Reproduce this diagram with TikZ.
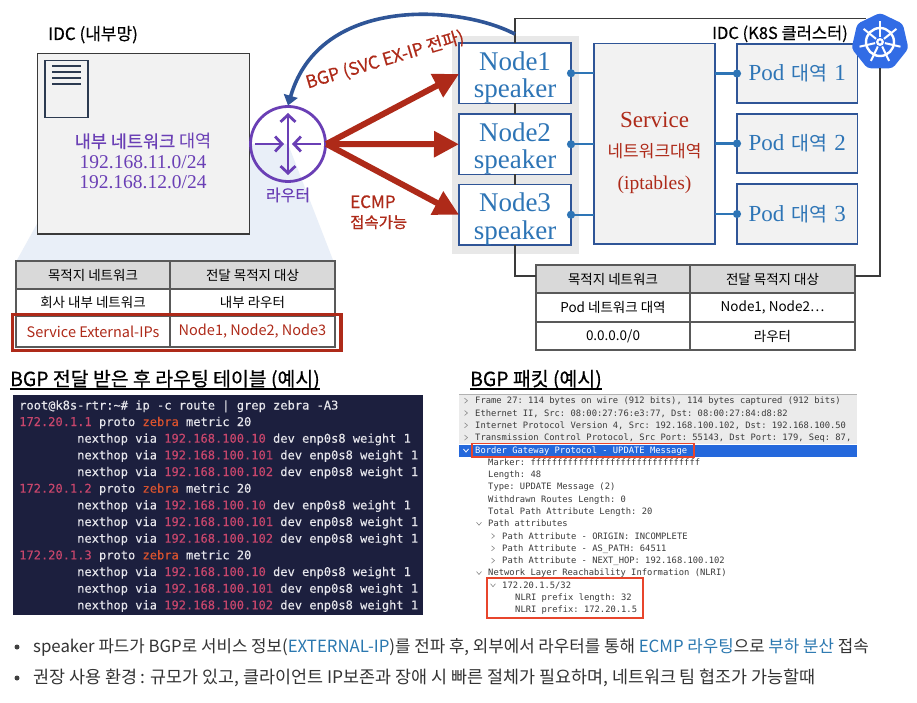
\documentclass[tikz,border=0pt]{standalone}
\usepackage{fontspec}
\setmainfont{Noto Sans CJK KR}
\newfontfamily\cjkm[FakeBold=0.45]{Noto Sans CJK KR}
\newfontfamily\sflat{Liberation Serif}
\newfontfamily\tmono{DejaVu Sans Mono}
\newfontfamily\tmonob[FakeBold=0.2]{DejaVu Sans Mono}
\usetikzlibrary{arrows.meta,shapes.geometric,calc}
\definecolor{nodeblue}{HTML}{2E75B6}
\definecolor{edgeblue}{HTML}{2F5597}
\definecolor{bgpblue}{HTML}{2F5597}
\definecolor{redd}{HTML}{AE2A19}
\definecolor{purp}{HTML}{6A3FB5}
\definecolor{boxgray}{HTML}{F2F2F2}
\definecolor{termbg}{HTML}{1C1F3E}
\definecolor{termfg}{HTML}{E6E6EC}
\definecolor{termip}{HTML}{C8466C}
\definecolor{termzb}{HTML}{D8522E}
\definecolor{wire}{HTML}{3A3A3A}
\definecolor{cellline}{HTML}{595959}
\definecolor{cone}{HTML}{E9EFF8}
\definecolor{k8sblue}{HTML}{326CE5}
\definecolor{hl}{HTML}{E8452C}
\definecolor{pkt}{HTML}{3A3A3A}
\definecolor{linkb}{HTML}{2B78B0}
\definecolor{docc}{HTML}{2C3A50}
\definecolor{selrow}{HTML}{2468DC}
\newcommand{\fs}[1]{\fontsize{#1}{#1}\selectfont}
\newcommand{\bx}[7]{\node[#6,minimum width={(#4-#2)*1pt},minimum height={(#5-#3)*1pt}] (#1) at ({(#2+#4)/2},{(#3+#5)/2}) {#7};}
\tikzset{
 x=1pt,y=-1pt,
 plainbox/.style={draw=wire,line width=1.4pt,fill=boxgray,inner sep=0pt,outer sep=0pt},
 nodebox/.style={draw=edgeblue,line width=1.3pt,fill=white,inner sep=0pt,outer sep=0pt,align=center,text=nodeblue,font=\sflat\fontsize{27}{27.5}\selectfont},
 svcbox/.style={draw=edgeblue,line width=1.3pt,fill=boxgray,inner sep=0pt,outer sep=0pt,align=center,text=redd},
 podbox/.style={draw=edgeblue,line width=1.3pt,fill=boxgray,inner sep=0pt,outer sep=0pt,text=nodeblue},
 cellh/.style={draw=cellline,line width=1.2pt,fill=black!15,inner sep=0pt,outer sep=0pt,font=\fs{13.5}},
 cellw/.style={draw=cellline,line width=1.2pt,fill=white,inner sep=0pt,outer sep=0pt,font=\fs{13.5}},
 cellr/.style={cellw,text=redd,font=\fs{14.5}},
 hlbox/.style={draw=redd,line width=3.2pt,inner sep=0pt,fill=none},
 hlpkt/.style={draw=hl,line width=1.8pt,inner sep=0pt,fill=none},
 frameline/.style={draw=wire,line width=1.3pt},
 blueconn/.style={draw=nodeblue,line width=2.4pt,shorten <=-4pt,{Circle[length=8pt,width=8pt]}-},
 redarrow/.style={draw=redd,line width=6pt,-{Triangle[length=25pt,width=25pt]}},
 bgparrow/.style={draw=bgpblue,line width=3.6pt,-{Triangle[length=10pt,width=14pt]}},
 routerarrow/.style={draw=purp,line width=2.8pt},
 termtxt/.style={anchor=base west,inner sep=0pt,text=termfg,font=\tmonob\fs{12.05}\frenchspacing},
 pkttxt/.style={anchor=base west,inner sep=0pt,text=pkt,font=\tmono\fs{8.8}\frenchspacing},
 chev/.style={draw=black!45,line width=.6pt},
 heading/.style={anchor=base west,inner sep=0pt,font=\cjkm\fs{19.4}},
 labeltxt/.style={inner sep=0pt},
 bullettxt/.style={anchor=base west,inner sep=0pt,text=black!80},
 dotb/.style={circle,fill=black!75,inner sep=0pt,minimum size=5pt},
}
\begin{document}
\begin{tikzpicture}
\useasboundingbox[fill=white] (0,0) rectangle (917,703);
% cone behind the IDC box
\fill[cone] (38,222) -- (17,260) -- (333,260) -- (288,144) -- (249,144) -- cycle;
% cluster background
\fill[black!9] (452,36) rectangle (579,254);
% left IDC
\node[labeltxt,anchor=base west,font=\cjkm\fs{17}] (idcl) at (48,40) {IDC (내부망)};
\bx{idc}{37.5}{53.5}{249.5}{234}{plainbox}{}
\bx{doc}{45}{60.5}{88}{117.5}{draw=docc,line width=1.6pt,fill=boxgray,inner sep=0pt}{}
\foreach \yy in {66,72,78,84}{\draw[docc,line width=1.6pt] (52,\yy) -- (81,\yy);}
\node[labeltxt,align=center,text=purp] (idct) at (143,161) {{\fs{17.5}\cjkm 내부 네트워크 }{\fs{17.5}대역}\\[5pt]{\sflat\fs{19.5}192.168.11.0/24}\\[6pt]{\sflat\fs{19.5}192.168.12.0/24}};
% router
\node[circle,draw=purp,line width=2.8pt,minimum size=75pt,inner sep=0pt,outer sep=1pt] (router) at (288,144) {};
\draw[routerarrow,{Straight Barb[length=7pt,width=15pt]}-{Straight Barb[length=7pt,width=15pt]}] ($(router.center)+(0,-31)$) -- ($(router.center)+(0,31)$);
\draw[routerarrow,-{Straight Barb[length=7pt,width=15pt]}] ($(router.center)+(-33,0)$) -- ($(router.center)+(-4,0)$);
\draw[routerarrow,-{Straight Barb[length=7pt,width=15pt]}] ($(router.center)+(33,0)$) -- ($(router.center)+(4,0)$);
\node[labeltxt,text=purp,font=\cjkm\fs{16}] (rlabel) at (288,195) {라우터};
% left table
\bx{lh1}{16}{261}{170}{289}{cellh}{목적지 네트워크}
\bx{lh2}{170}{261}{335}{289}{cellh}{전달 목적지 대상}
\bx{l11}{16}{289}{170}{316}{cellw}{회사 내부 네트워크}
\bx{l12}{170}{289}{335}{316}{cellw}{내부 라우터}
\bx{l21}{16}{316}{170}{347}{cellr}{Service External-IPs}
\bx{l22}{170}{316}{335}{347}{cellr}{Node1, Node2, Node3}
\bx{lhl}{12.5}{314.5}{341}{350.5}{hlbox}{}
% cluster nodes
\bx{n1}{459}{43.5}{571}{103}{nodebox}{\rule{0pt}{27pt}Node1\\speaker}
\bx{n2}{459}{114.5}{571}{174}{nodebox}{\rule{0pt}{27pt}Node2\\speaker}
\bx{n3}{459}{185}{571}{244.5}{nodebox}{\rule{0pt}{27pt}Node3\\speaker}
\bx{svc}{594}{43.5}{715}{244}{svcbox}{\rule{0pt}{34pt}{\sflat\fs{23}Service}\\[15pt]{\fs{17}네트워크대역}\\[16pt]{\sflat\fs{19.5}(iptables)}}
\bx{p1}{737}{44}{857.5}{103}{podbox}{{\sflat\fs{23}Pod}\hspace{7pt}{\fs{19.5}대역}\hspace{7pt}{\sflat\fs{23}1}}
\bx{p2}{737}{114}{857.5}{173}{podbox}{{\sflat\fs{23}Pod}\hspace{7pt}{\fs{19.5}대역}\hspace{7pt}{\sflat\fs{23}2}}
\bx{p3}{737}{184}{857.5}{244}{podbox}{{\sflat\fs{23}Pod}\hspace{7pt}{\fs{19.5}대역}\hspace{7pt}{\sflat\fs{23}3}}
\node[labeltxt,anchor=base east,font=\cjkm\fs{16.5}] (idcr) at (848,39) {IDC (K8S 클러스터)};
% connectors node to service, service to pod
\draw[blueconn] (n1.east) -- (svc.west |- n1.east);
\draw[blueconn] (n2.east) -- (svc.west |- n2.east);
\draw[blueconn] (n3.east) -- (svc.west |- n3.east);
\draw[blueconn] (p1.west) -- (svc.east |- p1.west);
\draw[blueconn] (p2.west) -- (svc.east |- p2.west);
\draw[blueconn] (p3.west) -- (svc.east |- p3.west);
% k8s logo
\node[regular polygon,regular polygon sides=7,fill=k8sblue,draw=k8sblue,line width=3pt,rounded corners=3pt,minimum size=55pt,inner sep=0pt] (k8s) at (880,42) {};
\coordinate (kc) at ($(k8s.center)+(0,0)$);
\draw[white,line width=2.4pt] (kc) circle[radius=14pt];
\foreach \a in {90,141.4,192.9,244.3,295.7,347.1,38.6}{
 \draw[white,line width=2pt] ($(kc)+(\a:5pt)$) -- ($(kc)+(\a:21pt)$);
}
\fill[white] (kc) circle[radius=4pt];
\fill[k8sblue] (kc) circle[radius=1.6pt];
% right table
\bx{rh1}{536}{265}{690}{293}{cellh}{목적지 네트워크}
\bx{rh2}{690}{265}{855}{293}{cellh}{전달 목적지 대상}
\bx{r11}{536}{293}{690}{322}{cellw}{Pod 네트워크 대역}
\bx{r12}{690}{293}{855}{322}{cellw}{Node1, Node2…}
\bx{r21}{536}{322}{690}{350}{cellw}{0.0.0.0/0}
\bx{r22}{690}{322}{855}{350}{cellw}{라우터}
% cluster frame
\coordinate (ftop) at (866,18.5);
\draw[frameline] (n1.north) |- (ftop);
\draw[frameline] (n1.south) -- (n2.north);
\draw[frameline] (n2.south) -- (n3.north);
\draw[frameline] (n3.south) |- ([yshift=3pt]rh1.west);
\draw[frameline] (k8s.south) |- ([yshift=3pt]rh2.east);
% arrows
\draw[redarrow] (router.east) -- (n1.west |- 0,74);
\draw[redarrow] (router.east) -- (n2.west);
\draw[redarrow] (router.east) -- (n3.west);
\draw[bgparrow] ([yshift=9pt]n1.north) .. controls (460,5) and (320,-5) .. (router.north);
\node[labeltxt,rotate=16.5,text=redd,font=\cjkm\fs{17.5}] (bgplab) at (385,60) {BGP (SVC EX-IP 전파)};
\node[labeltxt,anchor=base west,text=redd,font=\cjkm\fs{17}] (ecmp) at (350,208) {ECMP};
\node[labeltxt,anchor=base west,text=redd,font=\cjkm\fs{15.5}] (ecmp2) at (350,228) {접속가능};
% headings
\node[heading] (h1) at (10,386) {BGP 전달 받은 후 라우팅 테이블 (예시)};
\draw[line width=1.2pt] (h1.base west |- 0,389) -- (h1.base east |- 0,389);
\node[heading] (h2) at (470,386) {BGP 패킷 (예시)};
\draw[line width=1.2pt] (h2.base west |- 0,389) -- (h2.base east |- 0,389);
% terminal
\bx{term}{13}{395}{423}{615}{fill=termbg,inner sep=0pt}{}
\node[termtxt] (t0) at (19,409.5) {root@k8s-rtr:\textasciitilde\# ip -c route | grep zebra -A3};
\foreach \g in {1,2,3}{
 \pgfmathsetmacro\yy{426+66.67*(\g-1)}
 \node[termtxt] (tg\g) at (19,\yy) {\textcolor{termip}{172.20.1.\g} proto \textcolor{termzb}{zebra} metric 20};
 \foreach \h/\k in {10/1,101/2,102/3}{
  \pgfmathsetmacro\yz{\yy+16.67*\k}
  \node[termtxt] (tn\g\k) at (77,\yz) {nexthop via \textcolor{termip}{192.168.100.\h} dev enp0s8 weight 1};
 }
}
% packet
\fill[black!8] (459,394) rectangle (857,444);
\draw[black!30,line width=.8pt] (459,394) -- (857,394);
\fill[selrow] (459,444.5) rectangle (857,456.5);
\foreach \i/\xx/\tx in {0/475/Frame 27: 114 bytes on wire (912 bits){,} 114 bytes captured (912 bits),
 1/475/Ethernet II{,} Src: 08:00:27:76:e3:77{,} Dst: 08:00:27:84:d8:82,
 2/475/Internet Protocol Version 4{,} Src: 192.168.100.102{,} Dst: 192.168.100.50,
 3/475/Transmission Control Protocol{,} Src Port: 55143{,} Dst Port: 179{,} Seq: 87{,},
 5/488/Marker: ffffffffffffffffffffffffffffffff,
 6/488/Length: 48,
 7/488/Type: UPDATE Message (2),
 8/488/Withdrawn Routes Length: 0,
 9/488/Total Path Attribute Length: 20,
 10/488/Path attributes,
 11/502/Path Attribute - ORIGIN: INCOMPLETE,
 12/502/Path Attribute - AS\_PATH: 64511,
 13/502/Path Attribute - NEXT\_HOP: 192.168.100.102,
 14/488/Network Layer Reachability Information (NLRI),
 15/502/{172.20.1.5/32},
 16/515/NLRI prefix length: 32,
 17/515/NLRI prefix: 172.20.1.5}{
 \pgfmathsetmacro\yy{403.7+12.3*\i}
 \node[pkttxt] (pk\i) at (\xx,\yy) {\tx};
}
\node[pkttxt,text=white] (pk4) at (475,453) {Border Gateway Protocol - UPDATE Message};
% chevrons
\foreach \xx/\yy in {466/400.7,466/413,466/425.3,466/437.6,493/536,493/548.3,493/560.6}{
 \draw[chev] (\xx-1.5,\yy-2.5) -- (\xx+1.5,\yy) -- (\xx-1.5,\yy+2.5);
}
\foreach \xx/\yy in {479/523.7,479/573,493/585.2}{
 \draw[chev] (\xx-2.5,\yy-1.5) -- (\xx,\yy+1.5) -- (\xx+2.5,\yy-1.5);
}
\draw[white,line width=.8pt] (463.5,449) -- (466,452) -- (468.5,449);
\bx{pa}{472}{443.5}{694}{457}{hlpkt}{}
\bx{pb}{487}{578}{643}{618}{hlpkt}{}
% bullets
\node[dotb] (b1) at (17,647) {};
\node[dotb] (b2) at (17,678) {};
\node[bullettxt,font=\fs{16.8}] (bt1) at (33,652.5) {speaker 파드가 BGP로 서비스 정보(\textcolor{linkb}{EXTERNAL-IP})를 전파 후, 외부에서 라우터를 통해 \textcolor{linkb}{ECMP 라우팅}으로 \textcolor{linkb}{부하 분산} 접속};
\node[bullettxt,font=\fs{17.4}] (bt2) at (33,683.5) {권장 사용 환경 : 규모가 있고, 클라이언트 IP보존과 장애 시 빠른 절체가 필요하며, 네트워크 팀 협조가 가능할때};
\end{tikzpicture}
\end{document}
